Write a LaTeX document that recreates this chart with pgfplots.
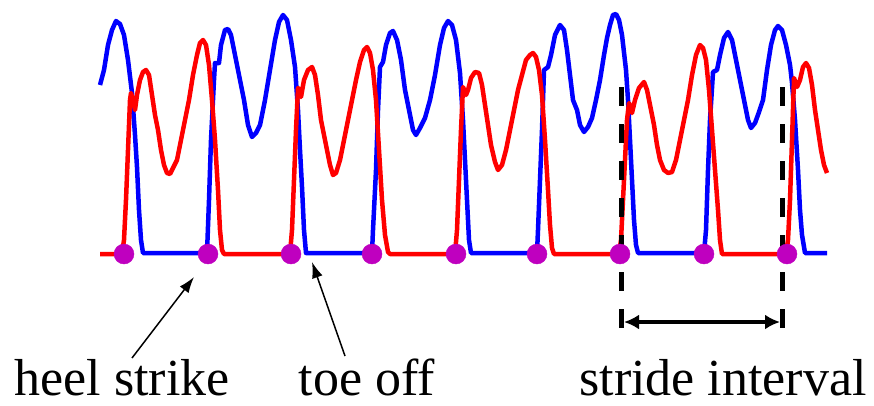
\documentclass[border=0pt]{standalone}
\usepackage{pgfplots}
\pgfplotsset{compat=1.18}
\usepackage{fontspec}
\setmainfont{Liberation Serif}
\newfontfamily\tnr{Liberation Serif}
\usetikzlibrary{arrows.meta}
\definecolor{dotc}{RGB}{191,0,191}
\begin{document}
\begin{tikzpicture}
\begin{axis}[
  width=874pt, height=405pt, scale only axis,
  xmin=0, xmax=874, ymin=0, ymax=405, y dir=reverse,
  axis lines=none, clip=false,
]
\coordinate (ll) at (axis cs:0,405);
\coordinate (ur) at (axis cs:874,0);
% blue signal
\addplot[blue, line width=4.5pt, line join=round, no markers] coordinates {
(100,85) (104,70) (108,45) (112,30) (116,21) (120,24) (124,35) (128,60) (132,93) (135,135) (137,167) (139,210) (141,240) (143,253)
(207,253) (209,200) (211,140) (214,80) (215,63) (219,63) (221,45) (225,30) (228,29) (231,35) (235,55) (240,80) (244,100) (248,125) (252,137) (256,133) (260,125) (265,100) (270,70) (275,40) (279,22) (283,15) (287,20) (291,40) (295,67) (298,110) (300,150) (302,187) (304,230) (306,253)
(372,253) (373,230) (376,170) (378,110) (380,67) (383,62) (386,45) (390,33) (393,31) (397,40) (401,60) (405,90) (409,110) (413,130) (416,135) (420,128) (425,118) (430,100) (435,75) (440,45) (444,28) (448,21) (452,25) (456,40) (460,73) (463,120) (465,160) (467,200) (469,240) (471,253)
(537,253) (538,230) (540,180) (542,130) (544,70) (548,67) (551,55) (555,35) (560,25) (564,30) (567,50) (570,75) (573,100) (577,110) (580,125) (584,132) (588,127) (592,118) (596,100) (600,80) (604,55) (607,38) (610,25) (613,15) (616,14) (619,20) (622,35) (626,70) (628,100) (630,140) (632,180) (634,220) (636,245) (638,253)
(704,253) (706,230) (708,170) (710,120) (713,72) (717,70) (720,55) (724,38) (728,32) (732,40) (736,60) (740,80) (744,100) (748,120) (751,128) (755,123) (759,112) (763,100) (767,70) (771,45) (775,30) (778,26) (782,30) (786,45) (790,65) (792,83) (795,120) (798,170) (800,210) (802,235) (805,253) (827,253)
};
% red signal
\addplot[red, line width=4.5pt, line join=round, no markers] coordinates {
(100,254) (122,254) (124,240) (126,200) (128,150) (130,100) (131,93) (133,100) (135,110) (137,95) (140,80) (143,72) (146,70) (149,75) (152,95) (155,115) (158,130) (161,150) (164,165) (167,173) (170,174) (173,168) (177,160) (181,140) (185,120) (189,100) (193,75) (197,55) (200,43) (203,40) (206,45) (209,65) (212,100) (215,140) (218,190) (220,230) (222,250) (224,254)
(290,254) (292,230) (294,180) (296,130) (298,88) (300,90) (301,97) (304,80) (308,70) (312,67) (315,75) (318,95) (321,120) (324,135) (327,150) (330,165) (333,175) (336,173) (340,160) (344,140) (348,120) (352,100) (356,80) (360,62) (364,50) (367,47) (370,53) (373,70) (376,100) (379,150) (382,200) (385,235) (388,252) (390,254)
(455,254) (457,230) (459,180) (461,130) (463,87) (466,95) (468,90) (471,78) (475,72) (479,73) (482,85) (485,105) (488,125) (491,145) (495,162) (498,170) (502,165) (506,150) (510,130) (514,110) (518,90) (522,75) (526,60) (530,55) (533,53) (536,57) (539,70) (542,95) (545,140) (548,190) (550,225) (552,248) (554,254)
(619,254) (621,240) (623,200) (625,160) (627,120) (629,103) (632,113) (635,100) (639,88) (644,82) (647,90) (650,105) (654,125) (657,145) (660,160) (664,170) (668,173) (672,172) (676,160) (680,140) (684,120) (688,100) (692,75) (696,55) (700,45) (703,48) (706,60) (709,90) (712,130) (715,170) (718,210) (720,240) (722,254)
(786,254) (788,240) (790,200) (792,140) (794,78) (797,87) (800,80) (803,67) (806,63) (809,68) (812,85) (815,110) (818,130) (821,150) (824,165) (827,173)
};
% heel strike dots
\addplot[only marks, mark=*, mark size=10pt, color=dotc, mark options={draw=dotc, fill=dotc}] coordinates {
(124,254) (208,254) (291,254) (372,254) (456,254) (537,254) (620,254) (704,254) (787,254)
};
% stride interval markers
\draw[black, line width=5pt, dash pattern=on 19pt off 18pt] (axis cs:621,87) -- (axis cs:621,330);
\draw[black, line width=5pt, dash pattern=on 19pt off 18pt] (axis cs:782,87) -- (axis cs:782,330);
\draw[black, line width=4pt, {Latex[length=15pt,width=15pt]}-{Latex[length=15pt,width=15pt]}] (axis cs:624,322) -- (axis cs:780,322);
% annotation arrows
\draw[black, line width=1.5pt, -{Latex[length=16pt,width=11pt]}] (axis cs:132,358) -- (axis cs:194,277);
\draw[black, line width=1.5pt, -{Latex[length=16pt,width=11pt]}] (axis cs:345,356) -- (axis cs:312,262);
% labels
\node[anchor=base, inner sep=0pt, font=\tnr\fontsize{52}{60}\selectfont] at (axis cs:122,395) {heel strike};
\node[anchor=base, inner sep=0pt, font=\tnr\fontsize{52}{60}\selectfont] at (axis cs:367,395) {toe off};
\node[anchor=base, inner sep=0pt, font=\tnr\fontsize{52}{60}\selectfont] at (axis cs:723,395) {stride interval};
\end{axis}
\pgfresetboundingbox
\path[use as bounding box] (ll) rectangle (ur);
\end{tikzpicture}
\end{document}
